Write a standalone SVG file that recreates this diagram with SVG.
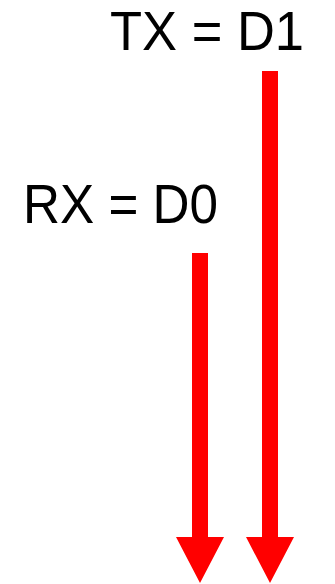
<svg xmlns="http://www.w3.org/2000/svg" width="335" height="584" viewBox="0 0 335 584">
<style>
.lbl{font-family:"Liberation Sans","Open Sans",Arial,sans-serif;font-size:55px;fill:#000}
.arr{fill:#ff0000}
</style>
<rect width="335" height="584" fill="#fff"/>
<g id="tx">
<text class="lbl" x="110" y="50" textLength="194" lengthAdjust="spacingAndGlyphs">TX = D1</text>
</g>
<g id="rx">
<text class="lbl" x="23" y="223" textLength="195" lengthAdjust="spacingAndGlyphs">RX = D0</text>
</g>
<g id="connectors">
<polygon class="arr" points="262,71 278,71 278,537 294,537 270,583 246,537 262,537"/>
<polygon class="arr" points="192,253 208,253 208,537 224,537 200,583 176,537 192,537"/>
</g>
</svg>
